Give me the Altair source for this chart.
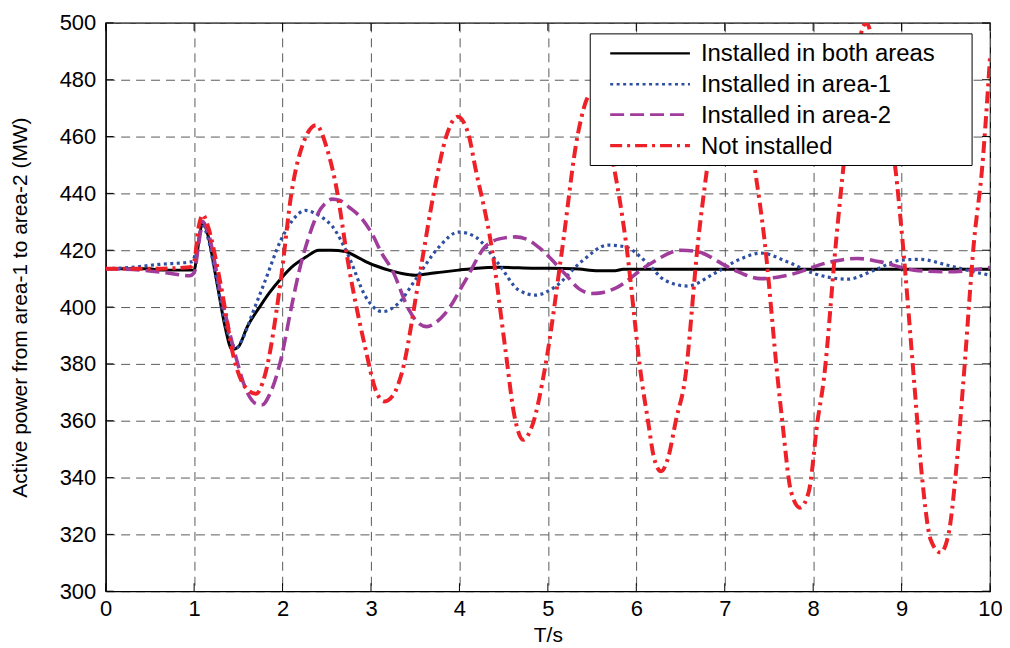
import altair as alt
import pandas as pd

# ---------------- data ----------------
t_both = [0, 0.5, 0.6, 1.0, 1.03, 1.07, 1.1, 1.15, 1.25, 1.35, 1.43, 1.5, 1.6, 1.74, 1.85, 1.98,
          2.1, 2.26, 2.41, 2.55, 2.71, 2.85, 2.94, 3.1, 3.2, 3.35, 3.5, 3.65, 3.8, 3.99, 4.2,
          4.44, 4.82, 5.3, 5.57, 5.76, 5.85, 6.5, 10]
p_both = [413.5, 413.5, 413, 413, 418, 427, 430, 426, 410, 393, 385, 386, 393, 400, 405, 410,
          414, 417.5, 420, 420, 419.5, 417.5, 416, 414, 413, 411.8, 411.2, 411.7, 412.3, 413, 413.7,
          414, 413.7, 413.5, 412.8, 412.8, 413.3, 413.3, 413.3]

t_area1 = [0, 0.3, 0.6, 0.98, 1.03, 1.1, 1.15, 1.25, 1.38, 1.48, 1.55, 1.66, 1.8, 1.98, 2.1,
           2.26, 2.34, 2.45, 2.56, 2.75, 2.94, 3.13, 3.31, 3.5, 3.77, 3.99, 4.18, 4.44, 4.67,
           4.86, 5.08, 5.38, 5.68, 5.87, 6.13, 6.32, 6.58, 6.88, 7.19, 7.41, 7.71, 8.01, 8.39,
           8.69, 8.99, 9.21, 9.52, 9.82, 10]
p_area1 = [413.5, 414, 415, 416, 421, 428.5, 425, 410, 391, 385.6, 389, 397.8, 409, 423.5, 430,
           434, 433.4, 431.5, 428.5, 417.7, 403.6, 398.4, 401.3, 409.5, 421.2, 426.4, 424.7, 415.3, 406,
           404.2, 407.1, 416, 421.8, 421.2, 415.3, 409.5, 407.4, 411.8, 417.1, 419, 415.9, 411.8, 409.8,
           413, 416.5, 416.8, 414.7, 412.4, 411.2]

t_area2 = [0, 0.4, 0.7, 0.95, 1.0, 1.05, 1.1, 1.15, 1.3, 1.45, 1.6, 1.7, 1.77, 1.85, 1.98, 2.1,
           2.19, 2.3, 2.38, 2.5, 2.56, 2.65, 2.75, 2.9, 3.01, 3.12, 3.24, 3.43, 3.53, 3.63, 3.73,
           3.84, 4.07, 4.29, 4.45, 4.63, 4.75, 4.89, 5.19, 5.35, 5.49, 5.6, 5.76, 6.13, 6.51, 6.7,
           7.07, 7.41, 7.71, 8.2, 8.5, 8.76, 9.14, 9.52, 10]
p_area2 = [413.5, 413, 412, 411, 412, 422, 430, 427, 405, 385, 370, 366, 365.6, 369, 381.4, 400,
           413, 425, 431.7, 437, 438, 437.5, 435.2, 431, 425.9, 419, 413, 399, 394.5, 393.1, 394.5,
           397.8, 409.5, 421.2, 424, 424.7, 424, 421.2, 411.8, 406.5, 404.8, 405, 406.6, 414.7, 420, 419.4,
           413.6, 410, 411.2, 415.9, 417.1, 415.9, 413, 412.4, 413.9]

t_none = [0, 0.5, 0.95, 1.0, 1.05, 1.1, 1.15, 1.3, 1.45, 1.6, 1.7, 1.8, 1.98, 2.1, 2.25, 2.38,
          2.5, 2.6, 2.75, 2.94, 3.05, 3.15, 3.25, 3.35, 3.54, 3.73, 3.85, 3.98, 4.1, 4.18, 4.37,
          4.52, 4.62, 4.72, 4.82, 4.97, 5.16, 5.34, 5.49, 5.62, 5.75, 5.88, 6.06, 6.13, 6.2, 6.28,
          6.36, 6.45, 6.55, 6.7, 6.8, 6.92, 7.07, 7.2, 7.34, 7.45, 7.6, 7.65, 7.75, 7.85, 7.95,
          8.05, 8.12, 8.26, 8.34, 8.45, 8.6, 8.75, 8.93, 9.01, 9.14, 9.23, 9.33, 9.44, 9.53, 9.61,
          9.7, 9.82, 9.91, 10]
p_none = [413.5, 413.5, 414, 416, 428, 432.5, 429, 408, 382, 371, 369.5, 376, 409.5, 440, 459, 464,
          456, 443.4, 414, 385, 371, 366.8, 369, 377, 409.5, 443.4, 460, 467, 461, 449, 420,
          385, 362, 353.3, 358, 379, 420, 461, 475, 466, 448.7, 423.5, 374.4, 360.4, 347, 342.2,
          347, 360.4, 374.4, 423.5, 448.7, 475, 487, 475, 448.7, 423.5, 374.4, 360, 335, 329.4, 335,
          360, 374.4, 423.5, 448.7, 480, 500, 480, 448.7, 423.5, 374.4, 340.5, 318, 313.6, 320, 340.5,
          374.4, 423.5, 448.7, 488]

labels = ["Installed in both areas", "Installed in area-1", "Installed in area-2", "Not installed"]
x_ticks = [0, 1, 2, 3, 4, 5, 6, 7, 8, 9, 10]
y_ticks = [300, 320, 340, 360, 380, 400, 420, 440, 460, 480, 500]

# ---------------- styling ----------------
W, H = 887, 570
FONT = "Liberation Sans"
colors = ["#000000", "#2f4fa3", "#a03c9c", "#ee2128"]
dashes = [None, [3, 3.5], [14, 6], [12, 5, 3, 5]]
widths = [3.0, 3.2, 3.6, 4.0]

xs = alt.Scale(domain=[0, 10], nice=False, zero=False)
ys = alt.Scale(domain=[300, 500], nice=False, zero=False)
xaxis = alt.Axis(values=x_ticks, title="T/s", format="d", ticks=False, labelPadding=7,
                 labelFlush=False, labelOverlap=False,
                 titleX=W / 2, titleY=44, titleBaseline="middle", titleAlign="center")
yaxis = alt.Axis(values=y_ticks, title="Active power from area-1 to area-2 (MW)", format="d",
                 ticks=False, labelPadding=10, labelFlush=False, labelOverlap=False,
                 titleX=-85, titleY=H / 2, titleAngle=270,
                 titleBaseline="middle", titleAlign="center")


def line_layer(t, p, i):
    df = pd.DataFrame({"t": t, "p": p})
    kw = dict(color=colors[i], strokeWidth=widths[i], interpolate="monotone", clip=True)
    if dashes[i] is not None:
        kw["strokeDash"] = dashes[i]
    return alt.Chart(df).mark_line(**kw).encode(
        x=alt.X("t:Q", scale=xs, axis=xaxis),
        y=alt.Y("p:Q", scale=ys, axis=yaxis),
    )


layers = [
    line_layer(t_both, p_both, 0),
    line_layer(t_area1, p_area1, 1),
    line_layer(t_area2, p_area2, 2),
    line_layer(t_none, p_none, 3),
]

# inner ticks (MATLAB style, on all four sides)
xt = pd.DataFrame({"v": x_ticks})
yt = pd.DataFrame({"v": y_ticks})
TL = 8
layers.append(alt.Chart(xt).mark_rule(color="black", strokeWidth=1).encode(
    x=alt.X("v:Q", scale=xs, axis=xaxis), y=alt.value(H - TL), y2=alt.value(H)))
layers.append(alt.Chart(xt).mark_rule(color="black", strokeWidth=1).encode(
    x=alt.X("v:Q", scale=xs, axis=xaxis), y=alt.value(0), y2=alt.value(TL)))
layers.append(alt.Chart(yt).mark_rule(color="black", strokeWidth=1).encode(
    y=alt.Y("v:Q", scale=ys, axis=yaxis), x=alt.value(0), x2=alt.value(TL)))
layers.append(alt.Chart(yt).mark_rule(color="black", strokeWidth=1).encode(
    y=alt.Y("v:Q", scale=ys, axis=yaxis), x=alt.value(W - TL), x2=alt.value(W)))

# legend (drawn manually, opaque box)
one = pd.DataFrame({"a": [0]})
LX0, LX1, LY0, LY1 = 486, 869, 11, 143
layers.append(alt.Chart(one).mark_rect(fill="white", stroke="black", strokeWidth=1).encode(
    x=alt.value(LX0), x2=alt.value(LX1), y=alt.value(LY0), y2=alt.value(LY1)))
row_y = [30.5, 61.5, 92, 123]
for i, lab in enumerate(labels):
    kw = dict(color=colors[i], strokeWidth=widths[i] * 0.8)
    if dashes[i] is not None:
        kw["strokeDash"] = dashes[i]
    layers.append(alt.Chart(one).mark_rule(**kw).encode(
        x=alt.value(506), x2=alt.value(586), y=alt.value(row_y[i]), y2=alt.value(row_y[i])))
    layers.append(alt.Chart(one).mark_text(align="left", baseline="middle", font=FONT,
                                           fontSize=24, color="black").encode(
        x=alt.value(597), y=alt.value(row_y[i] + 1), text=alt.value(lab)))

chart = alt.layer(*layers).properties(
    width=W, height=H,
    padding={"left": 98, "top": 14, "right": 12, "bottom": 56},
    autosize=alt.AutoSizeParams(type="none"),
    background="white",
).configure_view(
    stroke="black", strokeWidth=1.2
).configure_axis(
    labelFont=FONT, labelFontSize=22, labelColor="black",
    titleFont=FONT, titleFontSize=21, titleColor="black", titleFontWeight="normal",
    domainColor="black", domainWidth=1.2,
    gridColor="#5a5a5a", gridDash=[9, 6], gridWidth=1, gridOpacity=1,
)

chart.save("out.html", embed_options={"renderer": "svg", "actions": False})
